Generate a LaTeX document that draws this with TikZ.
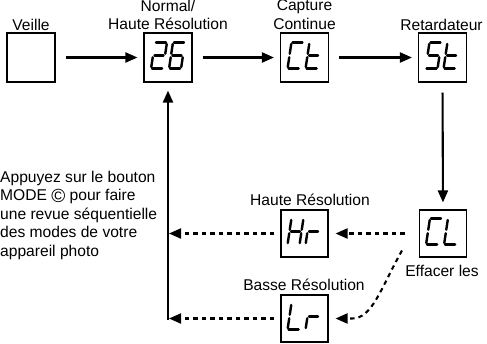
\documentclass[tikz,border=0pt]{standalone}
\usepackage{fontspec}
\setmainfont{Liberation Sans}
\usetikzlibrary{arrows.meta}
% seven-segment pieces (local coords, y up)
\def\zsga{(-5,13)--(5,13)}
\def\zsgb{(6,11.5)--(6,1.8)}
\def\zsgc{(6,-1.8)--(6,-11.5)}
\def\zsgd{(-5,-13)--(5,-13)}
\def\zsge{(-6,-1.8)--(-6,-11.5)}
\def\zsgf{(-6,11.5)--(-6,1.8)}
\def\zsgg{(-4.5,0)--(4.5,0)}
\newcommand\segdigit[3]{%
  \begin{scope}[shift={(#1.center)}, x=1pt, y=1pt, shift={(#2,2)}, xslant=0.15]
    \foreach \s in {#3}{\edef\tmpdraw{\noexpand\draw[segline] \csname zsg\s\endcsname;}\tmpdraw}
  \end{scope}}
\begin{document}
\begin{tikzpicture}[x=1pt,y=-1pt,
  box/.style={draw, line width=1.1pt, minimum width=48pt, minimum height=49pt, inner sep=0pt},
  sbox/.style={box, minimum width=47pt, minimum height=47pt},
  lbl/.style={font=\fontsize{15.6}{18.6}\selectfont, inner sep=0pt},
  arr/.style={line width=2.1pt, -{Triangle[length=12pt,width=10pt]}},
  darr/.style={arr, dash pattern=on 4.5pt off 4pt},
  segline/.style={line width=2.4pt, line cap=round}]
\useasboundingbox (0,0) rectangle (487,343);

% boxes
\node[box] (veille) at (31,57.5) {};
\node[box] (n26) at (168,57.5) {};
\node[box] (ct) at (304.5,57.5) {};
\node[box] (st) at (442.5,57.5) {};
\node[sbox] (cl) at (443,233.5) {};
\node[sbox] (hr) at (304.5,233.5) {};
\node[sbox] (lr) at (304.5,318.5) {};

% glyphs
\segdigit{n26}{-9}{a,b,g,e,d}
\segdigit{n26}{9}{a,f,g,e,d,c}
\segdigit{ct}{-9}{a,f,e,d}
\segdigit{ct}{9}{f,e,g,d}
\segdigit{st}{-9}{a,f,g,c,d}
\segdigit{st}{9}{f,e,g,d}
\segdigit{cl}{-9}{a,f,e,d}
\segdigit{cl}{9}{f,e,d}
\segdigit{hr}{-9}{f,b,g,e,c}
\segdigit{hr}{9}{g,e}
\segdigit{lr}{-9}{f,e,d}
\segdigit{lr}{9}{g,e}

% labels
\node[lbl, anchor=base] (lveille) at (31,30) {Veille};
\node[lbl, anchor=base, align=center] (l26) at (168,29.6) {Normal/\\Haute Résolution};
\node[lbl, anchor=base, align=center] (lct) at (304.5,29) {Capture\\Continue};
\node[lbl, anchor=base] (lst) at (441.5,30) {Retardateur};
\node[lbl, anchor=base] (lhr) at (310,205) {Haute Résolution};
\node[lbl, anchor=base] (llr) at (304,290) {Basse Résolution};
\node[lbl, anchor=base] (lcl) at (442,276) {Effacer les};
\node[lbl, anchor=base west, align=left] (note) at (0,256.5)
  {Appuyez sur le bouton\\MODE \raisebox{-1.5pt}{\fontsize{19}{19}\selectfont ©} pour faire\\une revue séquentielle\\des modes de votre\\appareil photo};

% connectors
\coordinate (ret) at (168,318.5);
\coordinate (rethr) at (169,233.5);
\coordinate (retlr) at (169,318.5);
\coordinate (clout) at ([xshift=-17pt,yshift=7pt]cl.south west);

\draw[arr, shorten <=10pt, shorten >=6pt] (veille.east) -- (n26.west);
\draw[arr, shorten <=10pt, shorten >=6pt] (n26.east) -- (ct.west);
\draw[arr, shorten <=10pt, shorten >=6pt] (ct.east) -- (st.west);
\draw[arr, shorten <=10pt, shorten >=7pt] (st.south) -- (cl.north);
\draw[darr, shorten <=14pt, shorten >=7pt] (cl.west) -- (hr.east);
\draw[darr, shorten <=6pt] (hr.west) -- (rethr);
\draw[darr, shorten <=6pt] (lr.west) -- (retlr);
\draw[darr, shorten >=7pt] (clout) .. controls (380,290) and (372,318.5) .. (352,318.5) -- (lr.east);
\draw[arr, shorten >=8pt] ([yshift=-1pt]ret) -- (n26.south);
\end{tikzpicture}
\end{document}
